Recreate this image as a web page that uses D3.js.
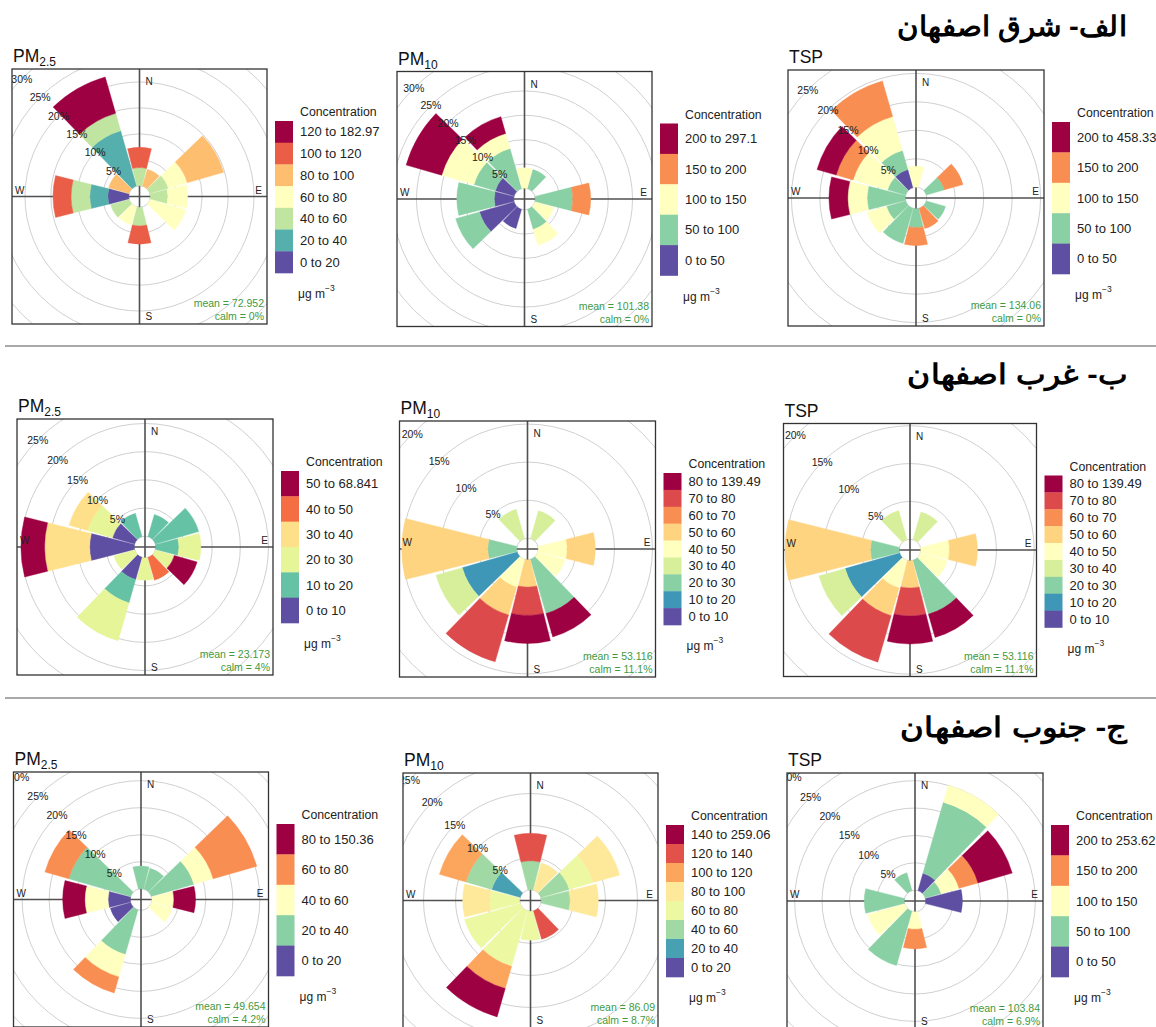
<!DOCTYPE html>
<html>
<head>
<meta charset="utf-8">
<script src="https://cdn.jsdelivr.net/npm/d3@7"></script>
<style>
  body { margin: 0; background: #fff; }
  svg { display: block; }
  text { font-family: "Liberation Sans", Arial, sans-serif; }
</style>
</head>
<body>
<svg id="fig" width="1156" height="1027"></svg>
<script>
// Wind directions (degrees from north) of the 30° sectors
const directions = [0, 30, 60, 90, 120, 150, 180, 210, 240, 270, 300, 330];
const compass = ["N", "E", "S", "W"];

// Region headings
const rowTitles = ["الف- شرق اصفهان", "ب- غرب اصفهان", "ج- جنوب اصفهان"];

// ---- East Isfahan ----
const eastPm25Bins = ["0 to 20", "20 to 40", "40 to 60", "60 to 80", "80 to 100", "100 to 120", "120 to 182.97"];
// rows follow `directions`, columns follow the bins (% of time)
const eastPm25 = [
  [0, 0, 3.5, 0, 0, 3.9, 0],
  [0, 0, 0, 0, 3.4, 0, 0],
  [0, 0, 3.7, 3.8, 7.3, 0, 0],
  [0, 0, 3.4, 3.8, 0, 0, 0],
  [0, 0, 0, 7.2, 0, 0, 0],
  [0, 0, 0, 0, 0, 0, 0],
  [0, 0, 3.6, 0, 0, 3.5, 0],
  [0, 0, 0, 3.6, 0, 0, 0],
  [0, 0, 3.7, 0, 0, 0, 0],
  [4.0, 3.5, 3.6, 0, 0, 3.5, 0],
  [0, 0, 0, 0, 4.1, 0, 0],
  [0, 11.1, 3.5, 0, 0, 0, 7.3]
];

const eastPm10Bins = ["0 to 50", "50 to 100", "100 to 150", "150 to 200", "200 to 297.1"];
const eastPm10 = [
  [0, 0, 4.2, 0, 0],
  [0, 4.1, 0, 0, 0],
  [0, 0, 0, 0, 0],
  [0, 7.7, 0, 3.7, 0],
  [0, 0, 4.1, 0, 0],
  [0, 4.3, 3.4, 0, 0],
  [0, 0, 0, 0, 0],
  [4.1, 0, 0, 0, 0],
  [7.4, 5.1, 0, 0, 0],
  [4.0, 7.7, 0, 0, 0],
  [4.0, 4.6, 6.9, 0, 7.6],
  [0, 8.6, 3.2, 0, 3.6]
];

const eastTspBins = ["0 to 50", "50 to 100", "100 to 150", "150 to 200", "200 to 458.33"];
const eastTsp = [
  [0, 0, 3.7, 0, 0],
  [0, 0, 0, 0, 0],
  [0, 3.3, 0, 3.4, 0],
  [0, 0, 0, 0, 0],
  [0, 3.5, 0, 0, 0],
  [0, 0, 0, 3.7, 0],
  [0, 3.3, 0, 3.2, 0],
  [0, 6.4, 0, 0, 0],
  [0, 3.5, 3.5, 0, 0],
  [0, 6.7, 3.4, 0, 3.3],
  [0, 3.3, 6.3, 3.1, 3.5],
  [3.3, 3.5, 6.2, 6.5, 0]
];

// ---- West Isfahan ----
const westPm25Bins = ["0 to 10", "10 to 20", "20 to 30", "30 to 40", "40 to 50", "50 to 68.841"];
const westPm25 = [
  [0, 0, 0, 0, 0, 0],
  [0, 4.1, 0, 0, 0, 0],
  [0, 8.0, 0, 0, 0, 0],
  [0, 4.1, 3.9, 0, 0, 0],
  [0, 0, 3.5, 0, 0, 4.2],
  [0, 0, 0, 0, 4.2, 0],
  [0, 0, 4.0, 0, 0, 0],
  [4.1, 4.3, 7.0, 0, 0, 0],
  [0, 0, 3.8, 0, 0, 0],
  [7.9, 0, 0, 8.0, 0, 4.2],
  [4.1, 0, 4.6, 3.4, 0, 0],
  [0, 4.3, 0, 0, 0, 0]
];

const westPm10Bins = ["0 to 10", "10 to 20", "20 to 30", "30 to 40", "40 to 50", "50 to 60", "60 to 70", "70 to 80", "80 to 139.49"];
const westPm10 = [
  [0, 0, 0, 0, 0, 0, 0, 0, 0],
  [0, 0, 0, 3.8, 0, 0, 0, 0, 0],
  [0, 0, 0, 0, 0, 0, 0, 0, 0],
  [0, 0, 0, 0, 3.8, 3.7, 0, 0, 0],
  [0, 0, 0, 0, 3.7, 0, 0, 0, 0],
  [0, 0, 7.4, 0, 0, 0, 0, 0, 3.2],
  [0, 0, 0, 0, 0, 3.6, 0, 3.7, 3.7],
  [0, 0, 0, 0, 3.8, 3.8, 0, 6.4, 0],
  [0, 7.5, 0, 3.6, 0, 0, 0, 0, 0],
  [0, 0, 3.8, 0, 0, 11.3, 0, 0, 0],
  [0, 0, 0, 0, 0, 0, 0, 0, 0],
  [0, 0, 0, 4.0, 0, 0, 0, 0, 0]
];

const westTspBins = ["0 to 10", "10 to 20", "20 to 30", "30 to 40", "40 to 50", "50 to 60", "60 to 70", "70 to 80", "80 to 139.49"];
const westTsp = [
  [0, 0, 0, 0, 0, 0, 0, 0, 0],
  [0, 0, 0, 3.8, 0, 0, 0, 0, 0],
  [0, 0, 0, 0, 0, 0, 0, 0, 0],
  [0, 0, 0, 0, 3.8, 3.7, 0, 0, 0],
  [0, 0, 0, 0, 3.7, 0, 0, 0, 0],
  [0, 0, 7.4, 0, 0, 0, 0, 0, 3.2],
  [0, 0, 0, 0, 0, 3.6, 0, 3.7, 3.7],
  [0, 0, 0, 0, 3.8, 3.8, 0, 6.4, 0],
  [0, 7.5, 0, 3.6, 0, 0, 0, 0, 0],
  [0, 0, 3.8, 0, 0, 11.3, 0, 0, 0],
  [0, 0, 0, 0, 0, 0, 0, 0, 0],
  [0, 0, 0, 4.0, 0, 0, 0, 0, 0]
];

// ---- South Isfahan ----
const southPm25Bins = ["0 to 20", "20 to 40", "40 to 60", "60 to 80", "80 to 150.36"];
const southPm25 = [
  [0, 4.2, 0, 0, 0],
  [0, 4.0, 0, 0, 0],
  [0, 8.2, 3.7, 8.4, 0],
  [0, 0, 4.1, 0, 4.0],
  [0, 0, 4.0, 0, 0],
  [0, 0, 0, 0, 0],
  [0, 0, 0, 0, 0],
  [0, 8.6, 4.3, 3.1, 0],
  [3.9, 0, 0, 0, 0],
  [4.1, 0, 4.3, 0, 4.1],
  [0, 11.9, 0, 4.6, 0],
  [0, 0, 0, 0, 0]
];

const southPm10Bins = ["0 to 20", "20 to 40", "40 to 60", "60 to 80", "80 to 100", "100 to 120", "120 to 140", "140 to 259.06"];
const southPm10 = [
  [0, 0, 4.5, 0, 0, 0, 4.3, 0],
  [0, 0, 0, 0, 4.4, 0, 0, 0],
  [0, 0, 4.6, 3.9, 4.3, 0, 0, 0],
  [0, 0, 4.5, 0, 4.4, 0, 0, 0],
  [0, 0, 0, 0, 0, 0, 0, 0],
  [0, 0, 0, 0, 0, 0, 4.6, 0],
  [0, 0, 0, 4.5, 0, 0, 0, 0],
  [0, 0, 0, 9.0, 0, 3.6, 0, 4.6],
  [0, 0, 0, 9.0, 0, 0, 0, 0],
  [0, 0, 0, 4.7, 4.2, 0, 0, 0],
  [0, 4.6, 4.2, 0, 0, 4.3, 0, 0],
  [0, 0, 0, 0, 0, 0, 0, 0]
];

const southTspBins = ["0 to 50", "50 to 100", "100 to 150", "150 to 200", "200 to 253.62"];
const southTsp = [
  [0, 0, 0, 0, 0],
  [3.3, 13.5, 3.2, 0, 0],
  [0, 3.0, 3.4, 3.6, 6.5],
  [6.7, 0, 0, 0, 0],
  [0, 0, 0, 0, 0],
  [0, 0, 0, 0, 0],
  [0, 0, 3.2, 3.6, 0],
  [0, 10.3, 0, 0, 0],
  [0, 0, 7.0, 0, 0],
  [0, 7.3, 0, 0, 0],
  [0, 0, 0, 0, 0],
  [0, 3.4, 0, 0, 0]
];

const pollutants = [["PM", "2.5"], ["PM", "10"], ["TSP", ""]];
const means = ["72.952", "101.38", "134.06", "23.173", "53.116", "53.116", "49.654", "86.09", "103.84"];
const calms = ["0%", "0%", "0%", "4%", "11.1%", "11.1%", "4.2%", "8.7%", "6.9%"];

// ---- layout: frame (x, y, side) and the percentage reached at the frame edge ----
const panels = [
  { bins: eastPm25Bins,  values: eastPm25,  frame: [12, 69, 255],       edge: 22.5 },
  { bins: eastPm10Bins,  values: eastPm10,  frame: [397, 71.5, 255],    edge: 24.0 },
  { bins: eastTspBins,   values: eastTsp,   frame: [788, 70, 256],      edge: 20.6 },
  { bins: westPm25Bins,  values: westPm25,  frame: [17, 419, 256],      edge: 20.8 },
  { bins: westPm10Bins,  values: westPm10,  frame: [399.5, 421, 256],   edge: 15.4 },
  { bins: westTspBins,   values: westTsp,   frame: [783.5, 423.5, 253], edge: 15.3 },
  { bins: southPm25Bins, values: southPm25, frame: [13.5, 772, 255],    edge: 21.6 },
  { bins: southPm10Bins, values: southPm10, frame: [403, 773, 255],     edge: 18.2 },
  { bins: southTspBins,  values: southTsp,  frame: [787, 773, 256],     edge: 21.4 }
];

const HOLE = 10.8;          // radius of the empty centre
const HALF_SECTOR = 14;     // half width of each 30° paddle, degrees
const rad = Math.PI / 180;

const spectral = d3.piecewise(d3.interpolateRgb, d3.schemeSpectral[11].slice().reverse());
const binColour = (i, n) => spectral(n === 1 ? 0 : i / (n - 1));

const svg = d3.select("#fig");
const arc = d3.arc();

panels.forEach((p, idx) => {
  const [bx, by, side] = p.frame;
  const half = side / 2;
  const n = p.bins.length;
  const g = svg.append("g").attr("transform", `translate(${bx},${by})`);

  const clipId = `frame-clip-${idx}`;
  g.append("clipPath").attr("id", clipId)
    .append("rect").attr("width", side).attr("height", side);

  const plot = g.append("g").attr("clip-path", `url(#${clipId})`);
  const c = plot.append("g").attr("transform", `translate(${half},${half})`);

  const r = d3.scaleLinear().domain([0, p.edge]).range([HOLE, half]);
  const rings = d3.range(0, r.invert(half * Math.SQRT2) + 5, 5);

  // grid rings
  c.selectAll("circle.ring").data(rings).join("circle")
    .attr("class", "ring")
    .attr("r", d => r(d))
    .attr("fill", "none")
    .attr("stroke", "#d0d0d0")
    .attr("stroke-width", 1);

  // compass axes
  c.append("line").attr("x1", -half).attr("x2", half).attr("y1", 0).attr("y2", 0)
    .attr("stroke", "#505050").attr("stroke-width", 1.6);
  c.append("line").attr("y1", -half).attr("y2", half).attr("x1", 0).attr("x2", 0)
    .attr("stroke", "#505050").attr("stroke-width", 1.6);

  // stacked paddles
  const rows = p.values.map((v, i) => {
    const o = { dir: directions[i] };
    v.forEach((val, j) => { o[j] = val; });
    return o;
  });
  const stacked = d3.stack().keys(d3.range(n))(rows);
  stacked.forEach((series, j) => {
    const col = binColour(j, n);
    c.append("g").selectAll("path")
      .data(series.filter(d => d[1] > d[0]))
      .join("path")
      .attr("d", d => arc({
        innerRadius: r(d[0]),
        outerRadius: r(d[1]),
        startAngle: (d.data.dir - HALF_SECTOR) * rad,
        endAngle: (d.data.dir + HALF_SECTOR) * rad
      }))
      .attr("fill", col)
      .attr("stroke", col)
      .attr("stroke-width", 0.4);
  });

  // ring labels along the north-west diagonal (only those whose centre sits inside the frame)
  const ringLabels = rings.filter(d => d > 0 && r(d) * Math.SQRT1_2 < half - 2);
  c.selectAll("text.ringlab").data(ringLabels).join("text")
    .attr("class", "ringlab")
    .attr("x", d => -r(d) * Math.SQRT1_2)
    .attr("y", d => -r(d) * Math.SQRT1_2)
    .attr("text-anchor", "middle")
    .attr("dominant-baseline", "central")
    .attr("font-size", 10.5)
    .attr("fill", "#222")
    .text(d => `${d}%`);

  // compass letters
  const cl = [
    { t: compass[0], x: half + 6, y: 16, a: "start" },
    { t: compass[1], x: side - 5, y: half - 3, a: "end" },
    { t: compass[2], x: half + 6, y: side - 4, a: "start" },
    { t: compass[3], x: 3, y: half - 3, a: "start" }
  ];
  plot.selectAll("text.compass").data(cl).join("text")
    .attr("class", "compass")
    .attr("x", d => d.x).attr("y", d => d.y)
    .attr("text-anchor", d => d.a)
    .attr("font-size", 10)
    .attr("fill", "#222")
    .text(d => d.t);

  // statistics
  plot.append("text").attr("x", side - 3).attr("y", side - 17)
    .attr("text-anchor", "end").attr("font-size", 10.5).attr("fill", "#3f9a3f")
    .text(`mean = ${means[idx]}`);
  plot.append("text").attr("x", side - 3).attr("y", side - 4)
    .attr("text-anchor", "end").attr("font-size", 10.5).attr("fill", "#3f9a3f")
    .text(`calm = ${calms[idx]}`);

  // frame
  g.append("rect").attr("width", side).attr("height", side)
    .attr("fill", "none").attr("stroke", "#333").attr("stroke-width", 1.3);

  // pollutant title
  const [main, sub] = pollutants[idx % 3];
  const title = g.append("text").attr("x", 1).attr("y", -7)
    .attr("font-size", 17.5).attr("fill", "#111");
  title.append("tspan").text(main);
  if (sub) title.append("tspan").attr("dy", 4).attr("font-size", 12).text(sub);

  // legend
  const lx = side + 8, ly = 52, lh = 152, sw = 18;
  const step = lh / n;
  const leg = g.append("g").attr("transform", `translate(${lx},${ly})`);
  leg.append("text").attr("x", 25).attr("y", -5)
    .attr("font-size", 12.3).attr("fill", "#222").text("Concentration");
  const order = d3.range(n).reverse();
  leg.selectAll("rect").data(order).join("rect")
    .attr("x", 0).attr("y", (d, i) => i * step)
    .attr("width", sw).attr("height", step + 0.3)
    .attr("fill", d => binColour(d, n));
  leg.selectAll("text.lab").data(order).join("text")
    .attr("class", "lab")
    .attr("x", 25).attr("y", (d, i) => i * step + step / 2)
    .attr("dominant-baseline", "central")
    .attr("font-size", 13).attr("fill", "#222")
    .text(d => p.bins[d]);
  const unit = leg.append("text").attr("x", 23).attr("y", lh + 25)
    .attr("font-size", 12).attr("fill", "#222");
  unit.append("tspan").text("μg m");
  unit.append("tspan").attr("dy", -7).attr("font-size", 8.5).text("−3");
});

// region headings
const headingY = [36, 384, 737];
const headingWidth = [230, 220, 227];
rowTitles.forEach((t, i) => {
  svg.append("text")
    .attr("x", 1127).attr("y", headingY[i])
    .attr("direction", "rtl")
    .attr("text-anchor", "start")
    .attr("font-family", "'DejaVu Sans', sans-serif")
    .attr("font-weight", "bold")
    .attr("font-size", 28)
    .attr("textLength", headingWidth[i])
    .attr("lengthAdjust", "spacingAndGlyphs")
    .attr("fill", "#000")
    .text(t);
});

// row separators
[346, 698].forEach(y => {
  svg.append("line").attr("x1", 5).attr("x2", 1156).attr("y1", y).attr("y2", y)
    .attr("stroke", "#8c8c8c").attr("stroke-width", 1.6);
});
</script>
</body>
</html>
